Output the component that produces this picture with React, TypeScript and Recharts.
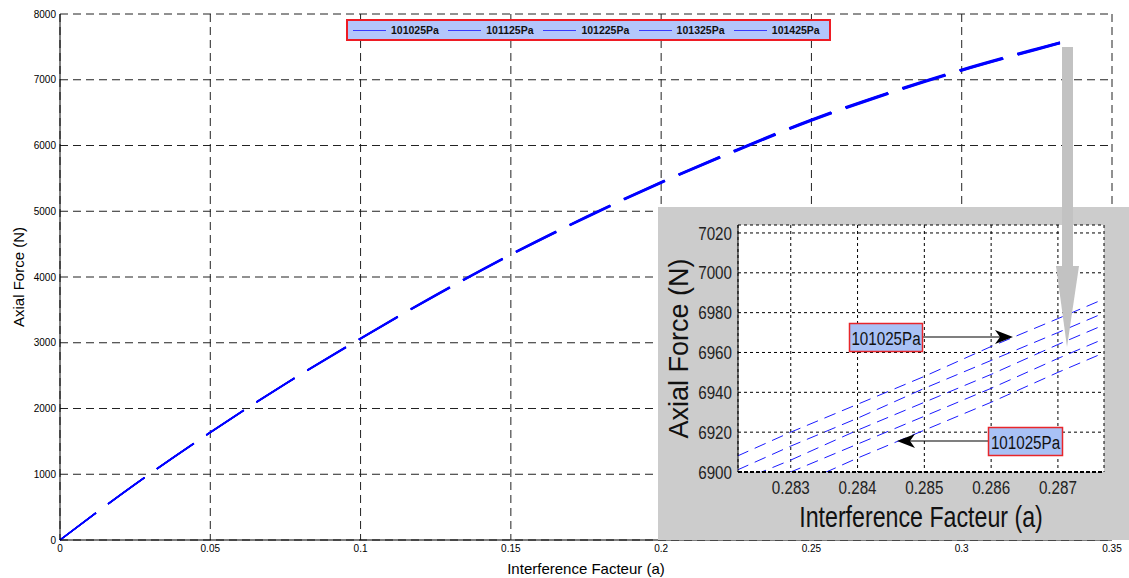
import { LineChart, Line, XAxis, YAxis, CartesianGrid } from 'recharts'

// pressure cases (legend names)
const pressures = ['101025Pa', '101125Pa', '101225Pa', '101325Pa', '101425Pa']

// main chart: interference factor vs axial force
const interference = [0, 0.025, 0.05, 0.075, 0.1, 0.125, 0.15, 0.175, 0.2, 0.225, 0.25, 0.275, 0.3, 0.325, 0.3327]
const force101025 = [0, 850, 1640, 2380, 3070, 3730, 4350, 4920, 5450, 5940, 6400, 6800, 7160, 7480, 7575]
const force101125 = [0, 849, 1638, 2378, 3067, 3726, 4345, 4914, 5444, 5933, 6393, 6793, 7153, 7473, 7568]
const force101225 = [0, 848, 1637, 2376, 3064, 3722, 4341, 4909, 5438, 5927, 6386, 6787, 7146, 7466, 7561]
const force101325 = [0, 847, 1635, 2374, 3061, 3719, 4336, 4904, 5432, 5920, 6380, 6780, 7140, 7460, 7555]
const force101425 = [0, 846, 1633, 2371, 3058, 3715, 4331, 4898, 5426, 5913, 6373, 6773, 7133, 7453, 7548]
const mainForces = [force101025, force101125, force101225, force101325, force101425]

const mainXTicks = [0, 0.05, 0.1, 0.15, 0.2, 0.25, 0.3, 0.35]
const mainYTicks = [0, 1000, 2000, 3000, 4000, 5000, 6000, 7000, 8000]

// zoomed inset
const zoomInterference = [0.2822, 0.283, 0.284, 0.285, 0.286, 0.287, 0.2877]
const zoom101025 = [6908, 6920, 6934, 6948, 6963, 6977, 6987]
const zoom101125 = [6901, 6913, 6927, 6942, 6956, 6970, 6980]
const zoom101225 = [6895, 6906, 6921, 6935, 6949, 6964, 6974]
const zoom101325 = [6888, 6900, 6914, 6928, 6942, 6957, 6967]
const zoom101425 = [6881, 6892, 6907, 6921, 6935, 6950, 6960]
const zoomForces = [zoom101025, zoom101125, zoom101225, zoom101325, zoom101425]

const zoomXTicks = [0.283, 0.284, 0.285, 0.286, 0.287]
const zoomYTicks = [6900, 6920, 6940, 6960, 6980, 7000, 7020]

const mainData = interference.map((a, i) => {
  const row: Record<string, number> = { a }
  pressures.forEach((p, k) => (row[p] = mainForces[k][i]))
  return row
})

const zoomData = zoomInterference.map((a, i) => {
  const row: Record<string, number> = { a }
  pressures.forEach((p, k) => (row[p] = zoomForces[k][i]))
  return row
})

const SANS = "'Liberation Sans', Arial, sans-serif"

// the inset text in the original is horizontally squeezed
const Narrow = ({ x, y, size, anchor = 'middle', baseline = 'central', fill = '#222', children }: any) => (
  <text transform={`translate(${x} ${y}) scale(0.8 1)`} textAnchor={anchor} dominantBaseline={baseline}
    fontSize={size} fontFamily={SANS} fill={fill}>
    {children}
  </text>
)

const MainYLabel = ({ viewBox }: any) => {
  const x = viewBox.x + 18
  const y = viewBox.y + viewBox.height / 2
  return (
    <text x={x} y={y} transform={`rotate(-90 ${x} ${y})`} textAnchor="middle" dominantBaseline="central"
      fontSize={15} fontFamily={SANS} fill="#000">
      Axial Force (N)
    </text>
  )
}

const ZoomYLabel = ({ viewBox }: any) => {
  const x = viewBox.x + 21
  const y = viewBox.y + viewBox.height / 2
  return (
    <text x={x} y={y} transform={`rotate(-90 ${x} ${y})`} textAnchor="middle" dominantBaseline="central"
      fontSize={27} fontFamily={SANS} fill="#111">
      Axial Force (N)
    </text>
  )
}

const ZoomXLabel = ({ viewBox }: any) => (
  <Narrow x={viewBox.x + viewBox.width / 2} y={viewBox.y + 45} size={29} fill="#111">
    Interference Facteur (a)
  </Narrow>
)

const ZoomXTick = ({ x, y, payload }: any) => (
  <Narrow x={x} y={y + 9} size={19}>{payload.value}</Narrow>
)

const ZoomYTick = ({ x, y, payload }: any) => (
  <Narrow x={x} y={y} size={19} anchor="end">{payload.value}</Narrow>
)

function Inset() {
  return (
    <div style={{ position: 'absolute', left: 658, top: 207, width: 471, height: 333, background: '#cccccc' }}>
      <LineChart width={471} height={333} data={zoomData} margin={{ top: 18, right: 25, left: 0, bottom: 0 }}>
        <CartesianGrid strokeDasharray="3 3" stroke="#000" fill="#fff" />
        <XAxis
          dataKey="a"
          type="number"
          domain={[0.28221, 0.28769]}
          allowDataOverflow
          ticks={zoomXTicks}
          height={68}
          tickSize={0}
          tickMargin={6}
          tickLine={false}
          axisLine={{ stroke: '#000', strokeWidth: 2, strokeDasharray: '4 2' }}
          tick={<ZoomXTick />}
          label={<ZoomXLabel />}
        />
        <YAxis
          type="number"
          domain={[6900, 7024]}
          allowDataOverflow
          ticks={zoomYTicks}
          width={80}
          tickSize={0}
          tickMargin={6}
          tickLine={false}
          axisLine={{ stroke: '#000' }}
          tick={<ZoomYTick />}
          label={<ZoomYLabel />}
        />
        {pressures.map((p) => (
          <Line key={p} dataKey={p} type="linear" stroke="#1a1aff" strokeWidth={1}
            strokeDasharray="12 7" dot={false} isAnimationActive={false} />
        ))}
      </LineChart>
    </div>
  )
}

function Overlay() {
  return (
    <svg width={1129} height={578} style={{ position: 'absolute', left: 0, top: 0, pointerEvents: 'none' }}>
      {/* big gray pointer from the curve end into the zoom */}
      <rect x={1062} y={47} width={11} height={219} fill="#c2c2c2" />
      <polygon points="1056,266 1079,266 1067,347" fill="#c2c2c2" />

      {/* callouts in the inset */}
      <line x1={922} y1={337} x2={1002} y2={337} stroke="#000" strokeWidth={1.2} />
      <polygon points="1013,337 995,330 1000,337 995,344" fill="#000" />
      <rect x={849.5} y={323.5} width={73} height={28} fill="#a9c1f5" stroke="#e8262b" strokeWidth={1.5} />
      <Narrow x={886} y={338} size={19} fill="#111">101025Pa</Narrow>

      <line x1={988} y1={441} x2={908} y2={441} stroke="#000" strokeWidth={1.2} />
      <polygon points="897,441 915,434 910,441 915,448" fill="#000" />
      <rect x={988.5} y={427.5} width={74} height={28} fill="#a9c1f5" stroke="#e8262b" strokeWidth={1.5} />
      <Narrow x={1025.5} y={442} size={19} fill="#111">101025Pa</Narrow>
    </svg>
  )
}

function LegendBox() {
  return (
    <div style={{
      position: 'absolute', left: 346, top: 19, width: 476, height: 18,
      background: '#b3c6fb', border: '2px solid #ee1c24', display: 'flex', alignItems: 'center',
      paddingLeft: 5, fontFamily: SANS, fontSize: 10.5, fontWeight: 'bold', color: '#111'
    }}>
      {pressures.map((p) => (
        <div key={p} style={{ display: 'flex', alignItems: 'center', width: 95.3 }}>
          <div style={{ width: 33, height: 0, borderTop: '1.5px solid #3a3aff', marginRight: 5 }} />
          <span>{p}</span>
        </div>
      ))}
    </div>
  )
}

export default function App() {
  return (
    <div style={{ position: 'absolute', left: 0, top: 0, width: 1129, height: 578, background: '#fff' }}>
      <LineChart width={1129} height={578} data={mainData} margin={{ top: 14, right: 17, left: 0, bottom: 0 }}>
        <CartesianGrid strokeDasharray="8 5" stroke="#222" />
        <XAxis
          dataKey="a"
          type="number"
          domain={[0, 0.35]}
          ticks={mainXTicks}
          height={38}
          tickSize={0}
          tickMargin={5}
          tickLine={false}
          axisLine={{ stroke: '#000' }}
          tick={{ fontSize: 10, fill: '#000', fontFamily: SANS }}
          label={{ value: 'Interference Facteur (a)', position: 'insideBottom', offset: 4, fontSize: 15, fill: '#000', fontFamily: SANS }}
        />
        <YAxis
          type="number"
          domain={[0, 8000]}
          ticks={mainYTicks}
          width={60}
          tickSize={0}
          tickMargin={4}
          tickLine={false}
          axisLine={{ stroke: '#000' }}
          tick={{ fontSize: 10, fill: '#000', fontFamily: SANS }}
          label={<MainYLabel />}
        />
        {pressures.map((p) => (
          <Line key={p} dataKey={p} type="monotone" stroke="#0000ff" strokeWidth={1.5}
            strokeDasharray="45 15" dot={false} isAnimationActive={false} />
        ))}
      </LineChart>
      <LegendBox />
      <Inset />
      <Overlay />
    </div>
  )
}
